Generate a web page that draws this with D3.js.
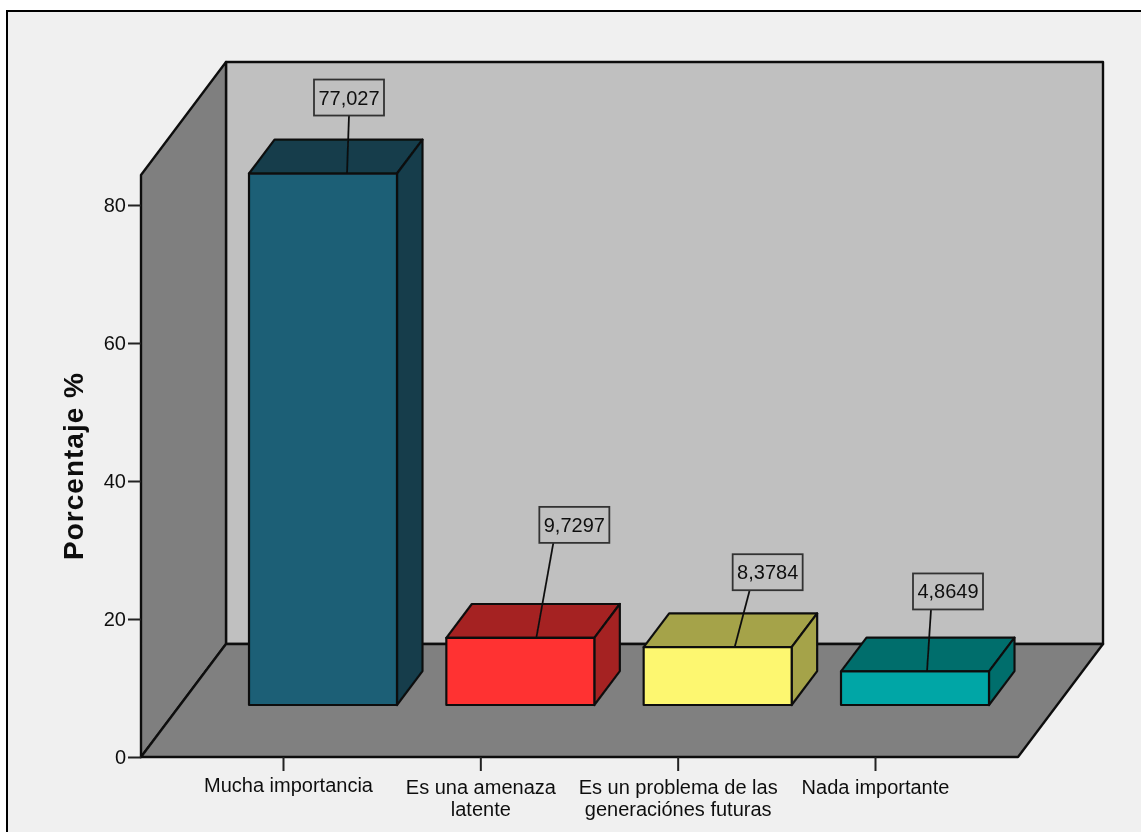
<!DOCTYPE html>
<html lang="es">
<head>
  <meta charset="UTF-8">
  <title>Porcentaje</title>
  <style>
    html, body { margin: 0; padding: 0; background: #fff; overflow: hidden; }
    svg { display: block; }
    text { font-family: "Liberation Sans", Arial, sans-serif; fill: #111; }
  </style>
  <script src="https://d3js.org/d3.v7.min.js"></script>
</head>
<body>
  <div id="chart"></div>
  <script>
    // values
    const categories = [
      ["Mucha importancia"],
      ["Es una amenaza", "latente"],
      ["Es un problema de las", "generaciónes futuras"],
      ["Nada importante"]
    ];
    const values = [77.027, 9.7297, 8.3784, 4.8649];
    const valueLabels = ["77,027", "9,7297", "8,3784", "4,8649"];
    const yTicks = [0, 20, 40, 60, 80];
    const frontColors = ["#1b5e76", "#ff3333", "#fdf76f", "#00a6a6"];
    const sideColors = ["#123c4c", "#a52222", "#a5a349", "#006e6c"];

    // where each callout sits relative to its bar (hand placed, as in the original)
    const calloutBoxDx = [26, 54, 50, 33];
    const calloutBoxDy = [58, 95, 57, 62];
    const calloutLineTopDx = [26, 33, 32, 16];
    const calloutLineBottomDx = [24, 16, 17, 12];

    const width = 1141, height = 832;
    const plot = { left: 141, right: 1018, top: 205, bottom: 757, depthX: 85, depthY: 113 };
    const yMax = 84.35;
    const barDepthFront = 0.46, barDepthBack = 0.76, barWidth = 148, barShift = 40;
    const ink = "#111";
    const fontSize = "20px";

    const svg = d3.select("#chart").append("svg")
      .attr("width", width)
      .attr("height", height);

    // the original is a slightly soft raster
    svg.append("defs").append("filter")
      .attr("id", "soft")
      .attr("filterUnits", "userSpaceOnUse")
      .attr("x", 0).attr("y", 0)
      .attr("width", width).attr("height", height)
      .append("feGaussianBlur")
      .attr("stdDeviation", 0.45);

    const root = svg.append("g").attr("filter", "url(#soft)");

    root.append("rect")
      .attr("x", 7).attr("y", 11)
      .attr("width", width + 10).attr("height", height + 10)
      .attr("fill", "#f0f0f0")
      .attr("stroke", "#000")
      .attr("stroke-width", 2);

    const y = d3.scaleLinear().domain([0, 80]).range([plot.bottom, plot.top]);
    const x = d3.scalePoint().domain(d3.range(categories.length)).range([283, 875]);

    // oblique projection: depth 0 is the front edge of the floor, 1 the back wall
    const px = (xx, depth) => xx + depth * plot.depthX;
    const py = (yy, depth) => yy - depth * plot.depthY;
    const poly = pts => pts.map(p => p.join(",")).join(" ");

    const walls = root.append("g")
      .attr("stroke", ink)
      .attr("stroke-width", 2.4)
      .attr("stroke-linejoin", "round");

    walls.append("polygon")   // back wall
      .attr("points", poly([
        [px(plot.left, 1), py(y(0), 1)],
        [px(plot.left, 1), py(y(yMax), 1)],
        [px(plot.right, 1), py(y(yMax), 1)],
        [px(plot.right, 1), py(y(0), 1)]
      ]))
      .attr("fill", "#c0c0c0");

    walls.append("polygon")   // left wall
      .attr("points", poly([
        [plot.left, y(0)],
        [plot.left, y(yMax)],
        [px(plot.left, 1), py(y(yMax), 1)],
        [px(plot.left, 1), py(y(0), 1)]
      ]))
      .attr("fill", "#7f7f7f");

    walls.append("polygon")   // floor
      .attr("points", poly([
        [plot.left, y(0)],
        [plot.right, y(0)],
        [px(plot.right, 1), py(y(0), 1)],
        [px(plot.left, 1), py(y(0), 1)]
      ]))
      .attr("fill", "#808080");

    // bars
    const bars = root.append("g")
      .selectAll("g")
      .data(values)
      .enter()
      .append("g")
      .attr("stroke", ink)
      .attr("stroke-width", 2.2)
      .attr("stroke-linejoin", "round");

    const dxB = (barDepthBack - barDepthFront) * plot.depthX;
    const dyB = (barDepthBack - barDepthFront) * plot.depthY;
    const barBase = py(y(0), barDepthFront);
    const barLeft = i => x(i) + barShift - barWidth / 2;
    const barTop = d => barBase - (y(0) - y(d));

    bars.append("polygon")   // top face
      .attr("points", (d, i) => poly([
        [barLeft(i), barTop(d)],
        [barLeft(i) + barWidth, barTop(d)],
        [barLeft(i) + barWidth + dxB, barTop(d) - dyB],
        [barLeft(i) + dxB, barTop(d) - dyB]
      ]))
      .attr("fill", (d, i) => sideColors[i]);

    bars.append("polygon")   // side face
      .attr("points", (d, i) => poly([
        [barLeft(i) + barWidth, barTop(d)],
        [barLeft(i) + barWidth + dxB, barTop(d) - dyB],
        [barLeft(i) + barWidth + dxB, barBase - dyB],
        [barLeft(i) + barWidth, barBase]
      ]))
      .attr("fill", (d, i) => sideColors[i]);

    bars.append("rect")      // front face
      .attr("x", (d, i) => barLeft(i))
      .attr("y", d => barTop(d))
      .attr("width", barWidth)
      .attr("height", d => barBase - barTop(d))
      .attr("fill", (d, i) => frontColors[i]);

    // callouts
    const boxW = 70, boxH = 36;
    const callouts = root.append("g")
      .selectAll("g")
      .data(values)
      .enter()
      .append("g");

    const barMid = i => x(i) + barShift;

    callouts.append("line")
      .attr("x1", (d, i) => barMid(i) + calloutLineBottomDx[i])
      .attr("y1", d => barTop(d))
      .attr("x2", (d, i) => barMid(i) + calloutLineTopDx[i])
      .attr("y2", (d, i) => barTop(d) - calloutBoxDy[i])
      .attr("stroke", ink)
      .attr("stroke-width", 1.8);

    callouts.append("rect")
      .attr("x", (d, i) => barMid(i) + calloutBoxDx[i] - boxW / 2)
      .attr("y", (d, i) => barTop(d) - calloutBoxDy[i] - boxH)
      .attr("width", boxW)
      .attr("height", boxH)
      .attr("fill", "#c0c0c0")
      .attr("stroke", "#333")
      .attr("stroke-width", 1.8);

    callouts.append("text")
      .attr("x", (d, i) => barMid(i) + calloutBoxDx[i])
      .attr("y", (d, i) => barTop(d) - calloutBoxDy[i] - boxH / 2 + 7)
      .attr("text-anchor", "middle")
      .style("font-size", fontSize)
      .text((d, i) => valueLabels[i]);

    // axes
    const yAxis = root.append("g")
      .attr("transform", `translate(${plot.left},0)`)
      .call(d3.axisLeft(y).tickValues(yTicks).tickSize(13).tickPadding(2));
    yAxis.select(".domain").remove();
    yAxis.selectAll("line").attr("stroke", "#222").attr("stroke-width", 2);
    yAxis.selectAll("text")
      .attr("fill", "#111")
      .style("font-size", fontSize)
      .style("font-family", '"Liberation Sans", Arial, sans-serif');

    const xAxis = root.append("g")
      .attr("transform", `translate(0,${plot.bottom})`)
      .call(d3.axisBottom(x).tickSize(14).tickFormat(""));
    xAxis.select(".domain").remove();
    xAxis.selectAll("line").attr("stroke", "#222").attr("stroke-width", 2);

    xAxis.selectAll(".tick text")
      .attr("fill", "#111")
      .attr("y", 0)
      .attr("dy", null)
      .style("font-size", fontSize)
      .style("font-family", '"Liberation Sans", Arial, sans-serif')
      .each(function(i) {
        const t = d3.select(this);
        // the first label sits a little higher and to the right in the original
        const top = i === 0 ? 35 : 37;
        const left = i === 0 ? 5 : 0;
        categories[i].forEach((line, k) => {
          t.append("tspan")
            .attr("x", left)
            .attr("y", top + k * 22)
            .text(line);
        });
      });

    root.append("text")
      .attr("transform", "translate(83,466) rotate(-90)")
      .attr("text-anchor", "middle")
      .style("font-size", "28px")
      .style("letter-spacing", "1px")
      .style("font-weight", "bold")
      .text("Porcentaje %");
  </script>
</body>
</html>
